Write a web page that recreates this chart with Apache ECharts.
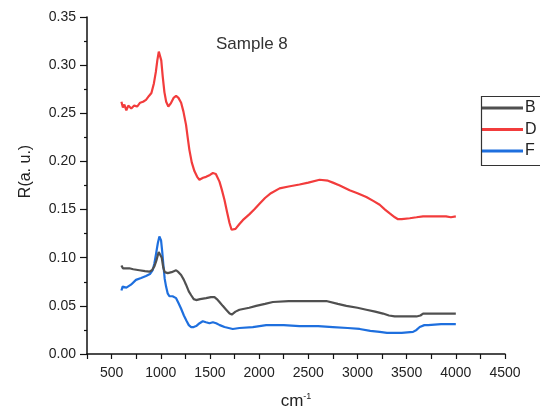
<!DOCTYPE html>
<html>
<head>
<meta charset="utf-8">
<script src="https://cdn.jsdelivr.net/npm/echarts@6/dist/echarts.min.js"></script>
<style>
  html, body { margin: 0; padding: 0; background: #fff; }
  #chart { width: 540px; height: 407px; }
</style>
</head>
<body>
<div id="chart"></div>
<script>
// Wavenumber (cm-1) and reflectance for the three spectra
const waveB = [600,615,630,647,680,720,782,840,884,910,935,955,979,995,1010,1025,1040,1071,1110,1156,1180,1207,1235,1257,1285,1309,1335,1360,1400,1461,1510,1546,1570,1597,1630,1665,1700,1722,1760,1800,1900,1970,2060,2140,2300,2411,2550,2683,2800,2887,3000,3090,3180,3260,3320,3379,3500,3600,3640,3667,3769,3900,4000];
const reflB = [0.092,0.089,0.091,0.089,0.089,0.088,0.087,0.086,0.0855,0.087,0.091,0.097,0.106,0.106,0.100,0.090,0.085,0.084,0.085,0.087,0.085,0.082,0.077,0.072,0.065,0.061,0.057,0.056,0.057,0.058,0.059,0.059,0.057,0.054,0.050,0.046,0.042,0.041,0.044,0.046,0.048,0.050,0.052,0.054,0.055,0.055,0.055,0.055,0.052,0.050,0.048,0.046,0.044,0.042,0.040,0.039,0.039,0.039,0.040,0.042,0.042,0.042,0.042];

const waveD = [600,615,630,650,670,700,730,760,790,820,850,880,905,930,950,965,980,995,1005,1020,1037,1055,1077,1100,1130,1156,1180,1207,1230,1257,1275,1291,1315,1342,1370,1393,1430,1461,1500,1530,1560,1597,1620,1648,1675,1699,1720,1735,1760,1800,1834,1900,1950,2004,2060,2120,2208,2300,2411,2500,2615,2700,2750,2820,2920,3000,3090,3160,3226,3280,3328,3380,3412,3450,3532,3600,3667,3800,3900,3950,4000];
const reflD = [0.262,0.256,0.259,0.253,0.258,0.255,0.258,0.257,0.261,0.262,0.264,0.268,0.271,0.281,0.293,0.305,0.314,0.313,0.305,0.288,0.272,0.262,0.257,0.260,0.266,0.268,0.266,0.261,0.252,0.238,0.224,0.212,0.199,0.190,0.184,0.181,0.183,0.184,0.186,0.188,0.187,0.179,0.171,0.160,0.147,0.136,0.129,0.127,0.130,0.135,0.139,0.145,0.150,0.156,0.162,0.167,0.172,0.174,0.176,0.178,0.181,0.180,0.178,0.175,0.170,0.167,0.163,0.159,0.155,0.150,0.146,0.142,0.140,0.140,0.141,0.142,0.143,0.143,0.143,0.142,0.143];

const waveF = [600,612,650,697,748,800,850,890,918,935,952,970,986,1003,1015,1026,1040,1054,1070,1088,1120,1156,1180,1207,1235,1264,1285,1309,1335,1360,1395,1427,1460,1495,1530,1563,1600,1648,1690,1732,1800,1936,2072,2250,2411,2600,2750,2900,3022,3130,3226,3300,3362,3450,3565,3600,3633,3680,3718,3850,4000];
const reflF = [0.066,0.070,0.069,0.072,0.077,0.079,0.081,0.083,0.087,0.094,0.104,0.115,0.122,0.118,0.106,0.093,0.078,0.070,0.063,0.060,0.060,0.058,0.053,0.047,0.040,0.034,0.030,0.028,0.028,0.029,0.032,0.034,0.033,0.032,0.033,0.032,0.030,0.028,0.027,0.026,0.027,0.028,0.030,0.030,0.029,0.029,0.028,0.027,0.026,0.024,0.023,0.022,0.022,0.022,0.023,0.025,0.028,0.030,0.030,0.031,0.031];

const seriesNames = ['B', 'D', 'F'];
const seriesColors = ['#505050', '#f23c3c', '#1e6fde'];

function pairs(xs, ys) {
  return xs.map((x, i) => [x, ys[i]]);
}

const font = 'Liberation Sans, Arial, sans-serif';
const chart = echarts.init(document.getElementById('chart'), null, { renderer: 'canvas' });

const lineSeries = [
  pairs(waveB, reflB),
  pairs(waveD, reflD),
  pairs(waveF, reflF)
].map((data, i) => ({
  name: seriesNames[i],
  type: 'line',
  data: data,
  symbol: 'none',
  smooth: false,
  lineStyle: { color: seriesColors[i], width: 2.2 },
  itemStyle: { color: seriesColors[i] },
  z: 3 - i
}));

chart.setOption({
  animation: false,
  backgroundColor: '#ffffff',
  textStyle: { fontFamily: font },
  title: {
    text: 'Sample 8',
    left: 211,
    top: 31,
    textStyle: { fontFamily: font, fontSize: 17, fontWeight: 'normal', color: '#333' }
  },
  // legend frame runs off the right edge of the canvas
  graphic: [{
    type: 'rect',
    left: 479,
    top: 94,
    shape: { width: 90, height: 69 },
    style: { fill: 'none', stroke: '#333', lineWidth: 1.2 },
    z: 10
  }],
  legend: {
    orient: 'vertical',
    left: 481,
    top: 94,
    padding: [6, 10, 6, 1],
    itemGap: 5.5,
    itemWidth: 41,
    itemHeight: 3,
    icon: 'rect',
    borderWidth: 0,
    textStyle: { fontFamily: font, fontSize: 16, color: '#222', padding: [0, 0, 0, -3] },
    data: seriesNames
  },
  grid: { left: 87, right: 35, top: 17, bottom: 53, containLabel: false, outerBoundsMode: 'none' },
  xAxis: {
    type: 'value',
    min: 250,
    max: 4500,
    interval: 250,
    name: '{a|cm}{b|-1}',
    nameLocation: 'middle',
    nameGap: 38,
    nameTextStyle: {
      rich: {
        a: { fontFamily: font, fontSize: 17, color: '#222' },
        b: { fontFamily: font, fontSize: 9, color: '#222', verticalAlign: 'top', padding: [0, 0, 9, 0] }
      }
    },
    axisLine: { show: true, lineStyle: { color: '#111', width: 1.5 } },
    axisTick: { show: true, inside: false, length: 5, lineStyle: { color: '#111', width: 1.2 } },
    axisLabel: {
      fontFamily: font, fontSize: 14, color: '#222', margin: 12,
      formatter: v => (v % 500 === 0 ? String(v) : '')
    },
    splitLine: { show: false }
  },
  yAxis: {
    type: 'value',
    min: 0,
    max: 0.35,
    interval: 0.05,
    name: 'R(a. u.)',
    nameLocation: 'middle',
    nameGap: 53,
    nameTextStyle: { fontFamily: font, fontSize: 16, color: '#222', padding: [0, 0, 0, 28] },
    axisLine: { show: true, lineStyle: { color: '#111', width: 1.5 } },
    axisTick: { show: true, inside: false, length: 7, lineStyle: { color: '#111', width: 1.2 } },
    minorTick: { show: true, splitNumber: 2, length: 3, lineStyle: { color: '#111', width: 1.2 } },
    axisLabel: {
      fontFamily: font, fontSize: 14, color: '#222', margin: 11,
      formatter: v => v.toFixed(2)
    },
    splitLine: { show: false }
  },
  series: lineSeries
});
</script>
</body>
</html>
